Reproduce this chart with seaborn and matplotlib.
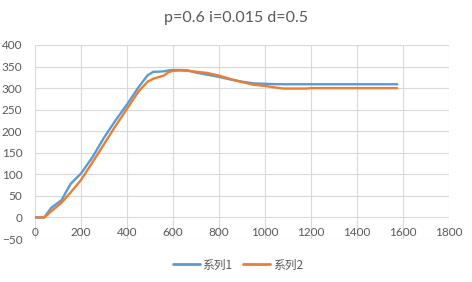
import matplotlib
matplotlib.use("Agg")
import matplotlib.pyplot as plt
import seaborn as sns
import pandas as pd

# ---- data ----
x_vals = [0, 40, 70, 115, 155, 200, 250, 300, 350, 400, 450, 490, 515, 540, 560,
          580, 600, 630, 665, 700, 750, 800, 850, 900, 950, 1000, 1050, 1080, 1100,
          1150, 1180, 1200, 1300, 1400, 1500, 1575]
series1 = [0, 0, 22, 40, 78, 102, 140, 185, 225, 262, 302, 330, 338, 338, 339,
           341, 342, 342, 341, 336, 331, 326, 320, 315, 311, 310, 309, 309, 309,
           309, 309, 309, 309, 309, 309, 309]
series2 = [0, 0, 14, 34, 58, 87, 128, 170, 212, 252, 292, 315, 322, 326, 329,
           337, 340, 341, 340, 338, 335, 329, 321, 314, 308, 305, 301, 299, 299,
           299, 299, 300, 300, 300, 300, 300]
series_names = ["系列1", "系列2"]
colors = ["#5B9BD5", "#ED7D31"]
title = "p=0.6 i=0.015 d=0.5"
x_ticks = list(range(0, 1801, 200))
y_ticks = list(range(-50, 401, 50))

df = pd.DataFrame({
    "x": x_vals + x_vals,
    "y": series1 + series2,
    "series": [series_names[0]] * len(x_vals) + [series_names[1]] * len(x_vals),
})

sns.set_style("white")
plt.rcParams["font.family"] = ["Lato", "Noto Sans CJK SC", "DejaVu Sans"]

fig = plt.figure(figsize=(4.72, 2.82), dpi=100)
ax = fig.add_axes([35 / 472, 1 - 239 / 282, (449 - 35) / 472, (239 - 45) / 282])

sns.lineplot(data=df, x="x", y="y", hue="series", palette=colors, ax=ax,
             linewidth=1.7, legend=False, sort=False)

ax.set_xlim(0, 1800)
ax.set_ylim(-50, 400)
ax.set_xticks(x_ticks)
ax.set_yticks(y_ticks)
ax.set_xlabel("")
ax.set_ylabel("")
ax.grid(True, color="#D9D9D9", linewidth=0.8)
ax.set_axisbelow(True)
for s in ["top", "right", "left"]:
    ax.spines[s].set_visible(False)
ax.spines["bottom"].set_position(("data", 0))
ax.spines["bottom"].set_visible(False)
ax.tick_params(axis="both", length=0, labelsize=8.5, colors="#595959")
ax.tick_params(axis="x", pad=7)
ax.tick_params(axis="y", pad=9)

fig.text(0.5, 1 - 18 / 282, title, ha="center", va="center",
         fontsize=11.5, color="#595959")

from matplotlib.lines import Line2D
handles = [Line2D([], [], color=c, linewidth=2.0) for c in colors]
leg = fig.legend(handles, series_names, loc="center", ncol=2,
                 bbox_to_anchor=(238 / 472, 1 - 265 / 282), frameon=False,
                 handlelength=2.3, handletextpad=0.2, columnspacing=0.9,
                 prop={"family": ["Noto Sans CJK SC", "DejaVu Sans"], "size": 8.5})
for t in leg.get_texts():
    t.set_color("#595959")

fig.savefig("out.png", dpi=100)
